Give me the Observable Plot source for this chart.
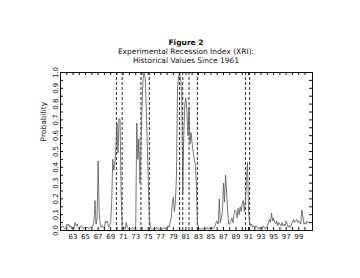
<!DOCTYPE html>
<html>
<head>
<meta charset="utf-8">
<script src="https://cdn.jsdelivr.net/npm/d3@7"></script>
<script src="https://cdn.jsdelivr.net/npm/@observablehq/plot@0.6"></script>
<style>
  html, body { margin: 0; padding: 0; background: white; }
  #wrap { position: relative; width: 360px; height: 278px; overflow: hidden; }
  #titles { position: absolute; left: 0; top: 38px; width: 372px; text-align: center;
            font-family: "DejaVu Sans", sans-serif; font-size: 7.5px; line-height: 9px; color: #111; }
  #titles .t1 { font-weight: bold; }
  #chart { position: absolute; left: 0; top: 0; }
</style>
</head>
<body>
<div id="wrap">
  <div id="chart"></div>
  <div id="titles">
    <div class="t1">Figure 2</div>
    <div>Experimental Recession Index (XRI):</div>
    <div>Historical Values Since 1961</div>
  </div>
</div>
<script>
// Bi-monthly readings (6 per year), each block starting in January of its start year
const start1960s = 1961;
const xri1960s = [
  0.01,0.02,0.03,0.02,0.01,0.02,  // 1961
  0.04,0.03,0.04,0.02,0.03,0.01,  // 1962
  0.02,0.01,0.05,0.03,0.04,0.02,  // 1963
  0.01,0.02,0.03,0.02,0.01,0.02,  // 1964
  0.01,0.02,0.02,0.01,0.02,0.02,  // 1965
  0.02,0.03,0.05,0.19,0.04,0.08,  // 1966
  0.44,0.12,0.04,0.02,0.03,0.02,  // 1967
  0.02,0.06,0.05,0.06,0.02,0.03,  // 1968
  0.05,0.18,0.45,0.38,0.42,0.52,  // 1969
  0.68,0.49,0.71,0.70,0.25,0.02   // 1970
];
const start1970s = 1971;
const xri1970s = [
  0.01,0.02,0.01,0.05,0.02,0.01,  // 1971
  0.01,0.01,0.01,0.02,0.01,0.01,  // 1972
  0.03,0.68,0.45,0.58,0.30,0.55,  // 1973
  0.78,0.96,1.00,0.97,0.80,0.55,  // 1974
  0.32,0.08,0.02,0.01,0.01,0.01,  // 1975
  0.01,0.01,0.02,0.01,0.01,0.01,  // 1976
  0.01,0.01,0.01,0.02,0.01,0.01,  // 1977
  0.02,0.03,0.02,0.05,0.08,0.17,  // 1978
  0.21,0.12,0.18,0.35,0.90,0.97,  // 1979
  1.00,0.95,0.88,0.23,0.60,0.80   // 1980
];
const start1980s = 1981;
const xri1980s = [
  0.84,0.75,0.60,0.78,0.55,0.62,  // 1981
  0.55,0.50,0.45,0.42,0.30,0.05,  // 1982
  0.02,0.01,0.01,0.01,0.01,0.01,  // 1983
  0.01,0.01,0.02,0.01,0.01,0.02,  // 1984
  0.01,0.02,0.01,0.02,0.03,0.05,  // 1985
  0.06,0.04,0.20,0.05,0.08,0.12,  // 1986
  0.30,0.18,0.35,0.25,0.12,0.04,  // 1987
  0.04,0.06,0.08,0.05,0.10,0.13,  // 1988
  0.12,0.08,0.14,0.10,0.15,0.12,  // 1989
  0.17,0.19,0.12,0.18,0.32,0.43   // 1990
];
const start1990s = 1991;
const xri1990s = [
  0.12,0.05,0.03,0.04,0.02,0.03,  // 1991
  0.02,0.03,0.02,0.01,0.02,0.01,  // 1992
  0.02,0.01,0.03,0.02,0.01,0.02,  // 1993
  0.03,0.05,0.07,0.05,0.11,0.06,  // 1994
  0.08,0.05,0.04,0.06,0.03,0.05,  // 1995
  0.04,0.03,0.05,0.03,0.04,0.03,  // 1996
  0.06,0.04,0.02,0.03,0.02,0.04,  // 1997
  0.05,0.07,0.05,0.06,0.07,0.05,  // 1998
  0.06,0.05,0.04,0.13,0.09,0.04,  // 1999
  0.05,0.04,0.06,0.05             // 2000
];

// NBER business-cycle peaks and troughs (dashed lines)
const recessionPeaks   = [1969.917, 1973.833, 1980.0, 1981.5, 1990.5];
const recessionTroughs = [1970.833, 1975.167, 1980.5, 1982.833, 1991.167];

// Axis ticks
const xLabelYears = [1963,1965,1967,1969,1971,1973,1975,1977,1979,1981,1983,1985,1987,1989,1991,1993,1995,1997,1999];
const xTickYears = d3.range(1962, 2001);
const yLabels = [0,0.1,0.2,0.3,0.4,0.5,0.6,0.7,0.8,0.9,1.0];
const yTickMarks = d3.range(0, 21).map(i => i / 20);
const xDomain = [1961, 2001.2];

const series = [];
[[start1960s, xri1960s],[start1970s, xri1970s],[start1980s, xri1980s],[start1990s, xri1990s]]
  .forEach(([y0, vals]) => vals.forEach((v, i) => series.push({date: y0 + i / 6, value: v})));

const W = 360, H = 278, mL = 60, mR = 48, mT = 72, mB = 48;
const pw = W - mL - mR, ph = H - mT - mB;

const chart = Plot.plot({
  width: W, height: H,
  marginLeft: mL, marginRight: mR, marginTop: mT, marginBottom: mB,
  style: {fontFamily: "DejaVu Sans, sans-serif", fontSize: "7px", background: "white", color: "#111"},
  x: {domain: xDomain, axis: null, label: null},
  y: {domain: [0, 1], axis: null, label: null},
  marks: [
    Plot.ruleX([...recessionPeaks, ...recessionTroughs], {stroke: "#111", strokeWidth: 0.9, strokeDasharray: "3,2"}),
    Plot.line(series, {x: "date", y: "value", stroke: "#555", strokeWidth: 0.8}),
    Plot.tickY(yTickMarks, {y: d => d, insetRight: pw - 3, stroke: "#111"}),
    Plot.tickY(yTickMarks, {y: d => d, insetLeft: pw - 3, stroke: "#111"}),
    Plot.tickX(xTickYears, {x: d => d, insetBottom: ph - 3, stroke: "#111"}),
    Plot.tickX(xTickYears, {x: d => d, insetTop: ph - 3, stroke: "#111"}),
    Plot.axisX(xLabelYears, {tickSize: 0, tickPadding: 4, tickFormat: d => String(d).slice(2), label: null}),
    Plot.axisY(yLabels, {tickSize: 0, tickPadding: 3, tickRotate: -90, tickFormat: d3.format(".1f"), label: null}),
    Plot.text(["Probability"], {frameAnchor: "left", dx: -17, dy: -10, rotate: -90, fontSize: 7.5}),
    Plot.frame({stroke: "#111"})
  ]
});
document.getElementById("chart").appendChild(chart);
</script>
</body>
</html>
